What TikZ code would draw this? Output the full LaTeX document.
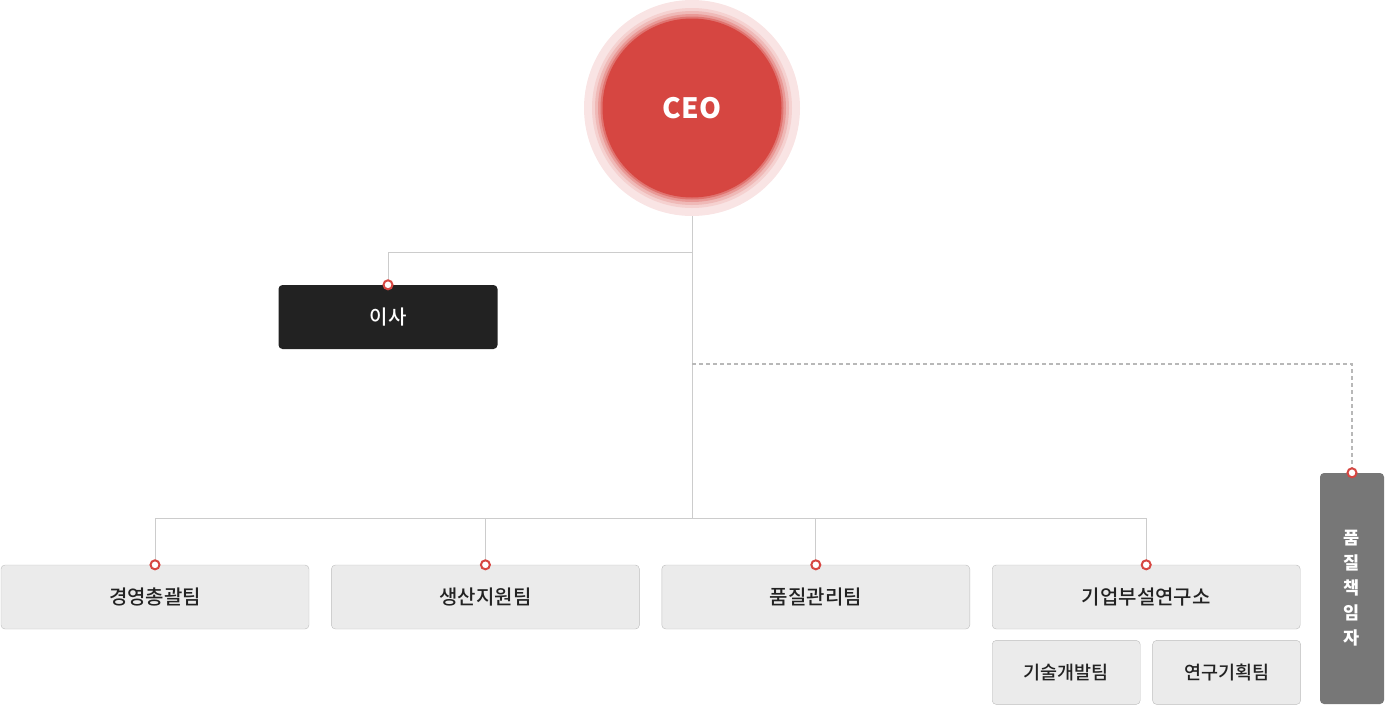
\documentclass[tikz,border=0pt]{standalone}
\usepackage{fontspec}
\newfontfamily\kr{Noto Sans CJK KR}
\newfontfamily\krmed{Noto Sans CJK KR Medium}
\usetikzlibrary{positioning}
\definecolor{ceored}{HTML}{D64641}
\definecolor{halo}{HTML}{F9E4E4}
\definecolor{linegray}{HTML}{CCCCCC}
\definecolor{boxgray}{HTML}{EBEBEB}
\definecolor{boxline}{HTML}{BDBDBD}
\definecolor{darkbox}{HTML}{222222}
\definecolor{qmgray}{HTML}{777777}

\begin{document}
\begin{tikzpicture}[x=1pt, y=-1pt, font=\kr,
ceonode/.style={circle, fill=ceored, minimum size=179pt, inner sep=0pt, text=white, font=\kr\fontsize{28}{30}\selectfont\bfseries},
teamnode/.style={rectangle, rounded corners=4pt, draw=boxline, fill=boxgray, minimum width=308pt, minimum height=64pt, text=darkbox, font=\krmed\fontsize{20}{22}\selectfont},
subnode/.style={teamnode, minimum width=148pt, font=\krmed\fontsize{18.5}{20}\selectfont},
boardnode/.style={rectangle, rounded corners=4pt, fill=darkbox, minimum width=219pt, minimum height=64pt, text=white, font=\krmed\fontsize{20}{22}\selectfont},
qmnode/.style={rectangle, rounded corners=4pt, fill=qmgray, minimum width=64pt, minimum height=231pt, text=white, align=center, font=\kr\fontsize{17.5}{25}\selectfont\bfseries},
dot/.style={circle, draw=ceored, fill=white, line width=2pt, inner sep=0pt, minimum size=9pt},
conn/.style={draw=linegray, line width=1pt},
dashline/.style={draw=linegray!90!black, line width=1.2pt, dash pattern=on 4pt off 3pt},
node distance=22pt,
]
\useasboundingbox (0,0) rectangle (1385,705);

%Halo
\fill[halo] (692,108) circle (108);
\fill[ceored!25] (692,108) circle (100);
\fill[ceored!38] (692,108) circle (97);
\fill[ceored!55] (692,108) circle (94);
\fill[ceored!75] (692,108) circle (91.5);

%Nodes
\node[ceonode]      (ceo)      at (692,108)                  {CEO};
\node[boardnode]    (board)    at (388,317)                  {이사};
\node[teamnode]     (team1)    at (155,597)                  {경영총괄팀};
\node[teamnode]     (team2)    [right=of team1]              {생산지원팀};
\node[teamnode]     (team3)    [right=of team2]              {품질관리팀};
\node[teamnode]     (team4)    [right=of team3]              {기업부설연구소};
\node[subnode]      (lab1)     [below right=11pt and 0pt of team4.south west, anchor=north west] {기술개발팀};
\node[subnode]      (lab2)     [right=12pt of lab1]          {연구기획팀};
\node[qmnode]       (qm)       at (1352,588.5)               {품\\질\\책\\임\\자};

\coordinate (split1) at (692,252);
\coordinate (split2) at (692,364);
\coordinate (hub)    at (692,518);

%Lines
\draw[conn] (692,216) -- (hub);
\draw[conn] (split1) -| (board.north);
\draw[conn] (hub) -| (team1.north);
\draw[conn] (hub) -| (team2.north);
\draw[conn] (hub) -| (team3.north);
\draw[conn] (hub) -| (team4.north);
\draw[dashline] (split2) -| (qm.north);

%Dots
\node[dot] (dboard) at (board.north) {};
\node[dot] (dteam1) at (team1.north) {};
\node[dot] (dteam2) at (team2.north) {};
\node[dot] (dteam3) at (team3.north) {};
\node[dot] (dteam4) at (team4.north) {};
\node[dot] (dqm)    at (qm.north)    {};
\end{tikzpicture}
\end{document}
